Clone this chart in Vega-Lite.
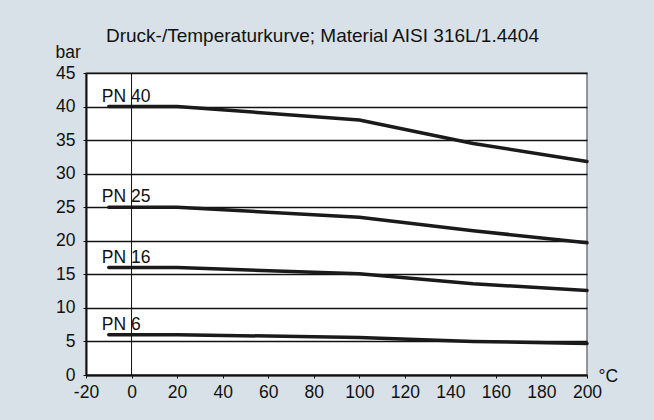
{
  "$schema": "https://vega.github.io/schema/vega-lite/v6.json",
  "autosize": "none",
  "width": 501,
  "height": 302,
  "padding": {"left": 86, "top": 73, "right": 67, "bottom": 45},
  "background": "#d9e1e8",
  "title": {
    "text": "Druck-/Temperaturkurve; Material AISI 316L/1.4404",
    "anchor": "start",
    "frame": "group",
    "dx": 20,
    "offset": -18,
    "baseline": "alphabetic",
    "font": "Liberation Sans",
    "fontSize": 19,
    "fontWeight": "normal",
    "color": "#111111"
  },
  "config": {
    "view": {"fill": "white", "stroke": "#777777", "strokeWidth": 1.5},
    "font": "Liberation Sans",
    "axis": {
      "labelFont": "Liberation Sans",
      "labelFontSize": 17.5,
      "labelColor": "#111111",
      "labelOverlap": false,
      "titleFont": "Liberation Sans",
      "titleFontSize": 17.5,
      "titleFontWeight": "normal",
      "titleColor": "#111111",
      "domainColor": "#111111",
      "domainWidth": 2,
      "tickColor": "#111111",
      "tickSize": 3,
      "gridColor": "#111111",
      "gridOpacity": 1
    }
  },
  "data": {
    "values": [
      {"series": "PN 40", "t": -10, "p": 40},
      {"series": "PN 40", "t": 20, "p": 40},
      {"series": "PN 40", "t": 100, "p": 38},
      {"series": "PN 40", "t": 150, "p": 34.5},
      {"series": "PN 40", "t": 200, "p": 31.8},
      {"series": "PN 25", "t": -10, "p": 25},
      {"series": "PN 25", "t": 20, "p": 25},
      {"series": "PN 25", "t": 100, "p": 23.5},
      {"series": "PN 25", "t": 150, "p": 21.5},
      {"series": "PN 25", "t": 200, "p": 19.7},
      {"series": "PN 16", "t": -10, "p": 16},
      {"series": "PN 16", "t": 20, "p": 16},
      {"series": "PN 16", "t": 100, "p": 15.1},
      {"series": "PN 16", "t": 150, "p": 13.6},
      {"series": "PN 16", "t": 200, "p": 12.6},
      {"series": "PN 6", "t": -10, "p": 6},
      {"series": "PN 6", "t": 20, "p": 6},
      {"series": "PN 6", "t": 100, "p": 5.6},
      {"series": "PN 6", "t": 150, "p": 5.0},
      {"series": "PN 6", "t": 200, "p": 4.7}
    ]
  },
  "encoding": {
    "x": {
      "field": "t",
      "type": "quantitative",
      "scale": {"domain": [-20, 200], "nice": false, "zero": false},
      "axis": {
        "values": [-20, 0, 20, 40, 60, 80, 100, 120, 140, 160, 180, 200],
        "labelExpr": "datum.value + ''",
        "grid": false,
        "labelPadding": 5,
        "labelFlush": false,
        "title": "°C",
        "titleAngle": 0,
        "titleX": 512,
        "titleY": 1,
        "titleAlign": "left",
        "titleBaseline": "middle"
      }
    },
    "y": {
      "field": "p",
      "type": "quantitative",
      "scale": {"domain": [0, 45], "nice": false},
      "axis": {
        "values": [0, 5, 10, 15, 20, 25, 30, 35, 40, 45],
        "grid": true,
        "gridWidth": 1.4,
        "labelPadding": 8,
        "labelFlush": false,
        "title": "bar",
        "titleAngle": 0,
        "titleX": -31,
        "titleY": -16,
        "titleAlign": "left",
        "titleBaseline": "alphabetic"
      }
    }
  },
  "layer": [
    {
      "mark": {"type": "line", "color": "#1a1a1a", "strokeWidth": 3.5, "strokeCap": "round", "strokeJoin": "round"},
      "encoding": {
        "detail": {"field": "series"}
      }
    },
    {
      "transform": [{"filter": "datum.t == -10"}],
      "mark": {"type": "text", "align": "left", "baseline": "alphabetic", "dx": -7, "dy": -5, "font": "Liberation Sans", "fontSize": 17.5, "color": "#111111"},
      "encoding": {
        "text": {"field": "series"}
      }
    },
    {
      "transform": [{"filter": "datum.t == -10 && datum.p == 40"}],
      "mark": {"type": "rule", "color": "#111111", "strokeWidth": 1},
      "encoding": {
        "x": {"datum": 0, "type": "quantitative"},
        "y": {"value": 0},
        "y2": {"value": 302}
      }
    }
  ]
}
